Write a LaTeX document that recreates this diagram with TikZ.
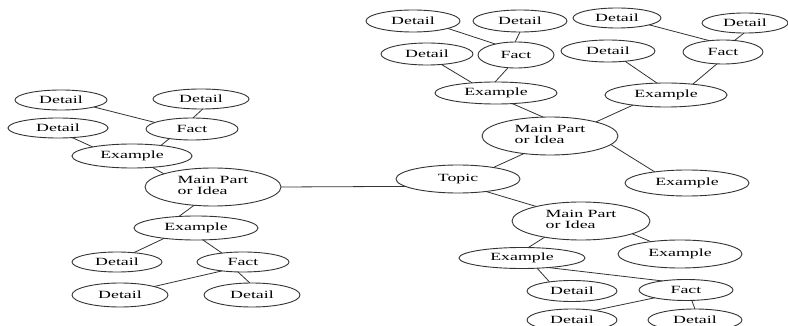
\documentclass[tikz,border=0pt]{standalone}
\usepackage{fontspec}
\usepackage{graphicx}
\setmainfont{Liberation Serif}
\usetikzlibrary{shapes.geometric}
\newcommand{\lb}[1]{\scalebox{1.62}[1]{#1}}
\newcommand{\mainlb}{\lb{\begin{tabular}{@{}l@{}}Main Part\\or Idea\end{tabular}}}
\tikzset{
  bub/.style={draw=black!80, line width=0.9pt, ellipse, inner sep=0pt, outer sep=0pt,
    font=\fontsize{11}{10.5}\selectfont},
  conn/.style={draw=black!80, line width=0.8pt}
}
\begin{document}
\begin{tikzpicture}[x=1pt,y=-1pt]
\useasboundingbox (0,0) rectangle (788,326);
\clip (0,0) rectangle (788,326);
\fill[white] (0,0) rectangle (788,326);
% left cluster
\node[bub, minimum width=92pt, minimum height=20pt] (L1) at (61,100) {\lb{Detail}};
\node[bub, minimum width=96pt, minimum height=20pt] (L2) at (201,99) {\lb{Detail}};
\node[bub, minimum width=100pt, minimum height=20pt] (L3) at (58,128) {\lb{Detail}};
\node[bub, minimum width=92pt, minimum height=22pt] (LF) at (192,129) {\lb{Fact}};
\node[bub, minimum width=120pt, minimum height=24pt] (LE) at (132,156) {\lb{Example}};
\node[bub, minimum width=136pt, minimum height=38pt] (LM) at (213,187) {\mainlb};
\node[bub, minimum width=124pt, minimum height=24pt] (LE2) at (196,228) {\lb{Example}};
\node[bub, minimum width=90pt, minimum height=20pt] (L4) at (117,262) {\lb{Detail}};
\node[bub, minimum width=92pt, minimum height=20pt] (LF2) at (243,262) {\lb{Fact}};
\node[bub, minimum width=96pt, minimum height=24pt] (L5) at (120,295) {\lb{Detail}};
\node[bub, minimum width=96pt, minimum height=24pt] (L6) at (252,295) {\lb{Detail}};
% top middle cluster
\node[bub, minimum width=94pt, minimum height=22pt] (T1) at (413,21) {\lb{Detail}};
\node[bub, minimum width=94pt, minimum height=22pt] (T2) at (520,21) {\lb{Detail}};
\node[bub, minimum width=92pt, minimum height=22pt] (T3) at (427,54) {\lb{Detail}};
\node[bub, minimum width=76pt, minimum height=26pt] (TF) at (516,55) {\lb{Fact}};
\node[bub, minimum width=122pt, minimum height=22pt] (TE) at (496,93) {\lb{Example}};
% top right cluster
\node[bub, minimum width=88pt, minimum height=20pt] (R1) at (617,18) {\lb{Detail}};
\node[bub, minimum width=86pt, minimum height=20pt] (R2) at (745,23) {\lb{Detail}};
\node[bub, minimum width=94pt, minimum height=22pt] (R3) at (608,51) {\lb{Detail}};
\node[bub, minimum width=80pt, minimum height=24pt] (RF) at (723,52) {\lb{Fact}};
\node[bub, minimum width=122pt, minimum height=24pt] (RE) at (666,95) {\lb{Example}};
% centre
\node[bub, minimum width=136pt, minimum height=38pt] (RM) at (550,136) {\mainlb};
\node[bub, minimum width=124pt, minimum height=28pt] (TOP) at (458,179) {\lb{Topic}};
\node[bub, minimum width=124pt, minimum height=26pt] (RX) at (687,183) {\lb{Example}};
% lower right cluster
\node[bub, minimum width=138pt, minimum height=38pt] (BM) at (581,221) {\mainlb};
\node[bub, minimum width=126pt, minimum height=21pt] (BE) at (522,258) {\lb{Example}};
\node[bub, minimum width=124pt, minimum height=28pt] (BX) at (680,254) {\lb{Example}};
\node[bub, minimum width=90pt, minimum height=21pt] (B1) at (572,291) {\lb{Detail}};
\node[bub, minimum width=94pt, minimum height=21pt] (BF) at (686,290) {\lb{Fact}};
\node[bub, minimum width=90pt, minimum height=22pt] (B2) at (572,320) {\lb{Detail}};
\node[bub, minimum width=94pt, minimum height=22pt] (B3) at (695,320) {\lb{Detail}};
% connectors left
\draw[conn] (L1.-12) -- (LF.170);
\draw[conn] (L2.-80) -- (LF.85);
\draw[conn] (L3.-34) -- (LE.167);
\draw[conn] (LF.203) -- (LE.20);
\draw[conn] (LE.-29) -- (LM.165);
\draw[conn] (LM.east) -- (TOP.188);
\draw[conn] (LM.224) -- (LE2.146);
\draw[conn] (LE2.198) -- (L4.29);
\draw[conn] (LE2.-60) -- (LF2.157);
\draw[conn] (LF2.203) -- (L5.14);
\draw[conn] (LF2.243) -- (L6.100);
% connectors top middle
\draw[conn] (T1.-12) -- (TF.152);
\draw[conn] (T2.-90) -- (TF.94);
\draw[conn] (T3.-36) -- (TE.157);
\draw[conn] (TF.238) -- (TE.95);
\draw[conn] (TE.-33) -- (RM.110);
% connectors top right
\draw[conn] (R1.-12) -- (RF.140);
\draw[conn] (R2.-95) -- (RF.45);
\draw[conn] (R3.-31) -- (RE.127);
\draw[conn] (RF.243) -- (RE.22);
\draw[conn] (RE.197) -- (RM.17);
% centre
\draw[conn] (RM.214) -- (TOP.18);
\draw[conn] (RM.-8) -- (RX.161);
\draw[conn] (TOP.-24) -- (BM.162);
% lower right
\draw[conn] (BM.204) -- (BE.59);
\draw[conn] (BM.-14) -- (BX.157);
\draw[conn] (BE.-34) -- (B1.158);
\draw[conn] (BE.-20) -- (BF.159);
\draw[conn] (BF.194) -- (B2.23);
\draw[conn] (BF.-61) -- (B3.90);
\end{tikzpicture}
\end{document}
